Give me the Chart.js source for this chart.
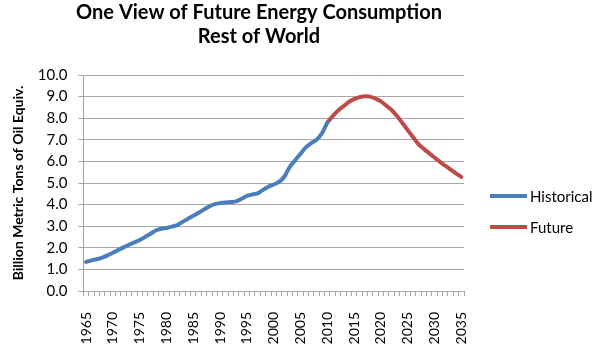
<!DOCTYPE html>
<html>
<head>
<meta charset="utf-8">
<script src="https://cdn.jsdelivr.net/npm/chart.js@4.4.1/dist/chart.umd.min.js"></script>
<style>
  body { margin: 0; background: #fff; }
  #wrap { position: relative; width: 600px; height: 353px; }
  #chart { position: absolute; left: 0; top: 0; }
  #legend { position: absolute; left: 490px; top: 180px; font-family: Lato, sans-serif; font-size: 15px; color: #000; }
  #legend div { height: 31px; display: flex; align-items: center; }
  #legend span.sw { display: inline-block; width: 37px; height: 4px; margin-right: 3px; }
</style>
</head>
<body>
<div id="wrap">
  <canvas id="chart" width="516" height="353"></canvas>
  <div id="legend"></div>
</div>
<script>
// years 1965 .. 2035
var years = [];
for (var y = 1965; y <= 2035; y++) years.push(String(y));

// Historical 1965-2010
var historical = [
  1.35, 1.42, 1.47, 1.55, 1.65, 1.77, 1.90, 2.02, 2.14, 2.25,
  2.36, 2.50, 2.65, 2.80, 2.88, 2.92, 2.98, 3.05, 3.20, 3.35,
  3.48, 3.62, 3.78, 3.92, 4.02, 4.07, 4.10, 4.12, 4.15, 4.27,
  4.40, 4.47, 4.52, 4.68, 4.83, 4.93, 5.05, 5.30, 5.75, 6.05,
  6.35, 6.65, 6.85, 7.00, 7.30, 7.80
];

// Future 2010-2035
var future = [
  7.80, 8.10, 8.35, 8.55, 8.75, 8.88, 8.97, 9.02, 9.00, 8.90,
  8.78, 8.58, 8.38, 8.10, 7.78, 7.45, 7.12, 6.80, 6.58, 6.38,
  6.18, 5.98, 5.80, 5.62, 5.45, 5.28
];

var yTicks = [0, 1, 2, 3, 4, 5, 6, 7, 8, 9, 10];

var histData = years.map(function(yr, i) { return i < historical.length ? historical[i] : null; });
var futStart = years.indexOf("2010");
var futData = years.map(function(yr, i) { return i >= futStart ? future[i - futStart] : null; });

var font = "Lato, sans-serif";
var gridColor = "#a6a6a6";

var chart = new Chart(document.getElementById("chart"), {
  type: "line",
  data: {
    labels: years,
    datasets: [
      {
        label: "Historical",
        data: histData,
        borderColor: "#4a7ebb",
        backgroundColor: "#4a7ebb",
        borderWidth: 4,
        pointRadius: 0,
        tension: 0.3,
        borderCapStyle: "round",
        spanGaps: false
      },
      {
        label: "Future",
        data: futData,
        borderColor: "#be4b48",
        backgroundColor: "#be4b48",
        borderWidth: 4,
        pointRadius: 0,
        tension: 0.3,
        borderCapStyle: "round",
        spanGaps: false
      }
    ]
  },
  options: {
    responsive: false,
    animation: false,
    layout: { padding: { left: 10, right: 8, top: 0, bottom: 1 } },
    plugins: {
      legend: { display: false },
      tooltip: { enabled: false },
      title: {
        display: true,
        text: ["One View of Future Energy Consumption", "Rest of World"],
        color: "#000",
        font: { family: font, size: 20, weight: "bold" },
        lineHeight: 1.35,
        padding: { top: 1, bottom: 26 }
      }
    },
    scales: {
      x: {
        offset: true,
        grid: {
          offset: true,
          drawOnChartArea: false,
          drawTicks: true,
          tickLength: 5,
          color: gridColor
        },
        border: { color: gridColor, width: 1 },
        ticks: {
          autoSkip: false,
          minRotation: 90,
          maxRotation: 90,
          padding: 16,
          color: "#000",
          font: { family: font, size: 14 },
          callback: function(v, i) {
            var lab = this.getLabelForValue(v);
            return (Number(lab) % 5 === 0) ? lab : "";
          }
        },
        afterFit: function(s) { s.height = 61; }
      },
      y: {
        min: 0,
        max: 10,
        afterBuildTicks: function(axis) {
          axis.ticks = yTicks.map(function(v) { return { value: v }; });
        },
        grid: { color: gridColor, tickLength: 5, lineWidth: 1 },
        border: { color: gridColor, width: 1 },
        ticks: {
          color: "#000",
          padding: 11,
          font: { family: font, size: 15 },
          callback: function(v) { return v.toFixed(1); }
        },
        title: {
          display: true,
          text: "Billion Metric Tons of Oil Equiv.",
          color: "#000",
          font: { family: font, size: 14, weight: "bold" },
          padding: { top: 0, bottom: 0 }
        }
      },
      // empty right-hand axis that keeps room for the legend
      side: {
        position: "right",
        grid: { display: false },
        border: { display: false },
        ticks: { display: false },
        afterFit: function(s) { s.width = 44; }
      }
    }
  }
});

// legend built from the datasets
var leg = document.getElementById("legend");
chart.data.datasets.forEach(function(ds) {
  var row = document.createElement("div");
  var sw = document.createElement("span");
  sw.className = "sw";
  sw.style.background = ds.borderColor;
  row.appendChild(sw);
  row.appendChild(document.createTextNode(ds.label));
  leg.appendChild(row);
});
</script>
</body>
</html>
